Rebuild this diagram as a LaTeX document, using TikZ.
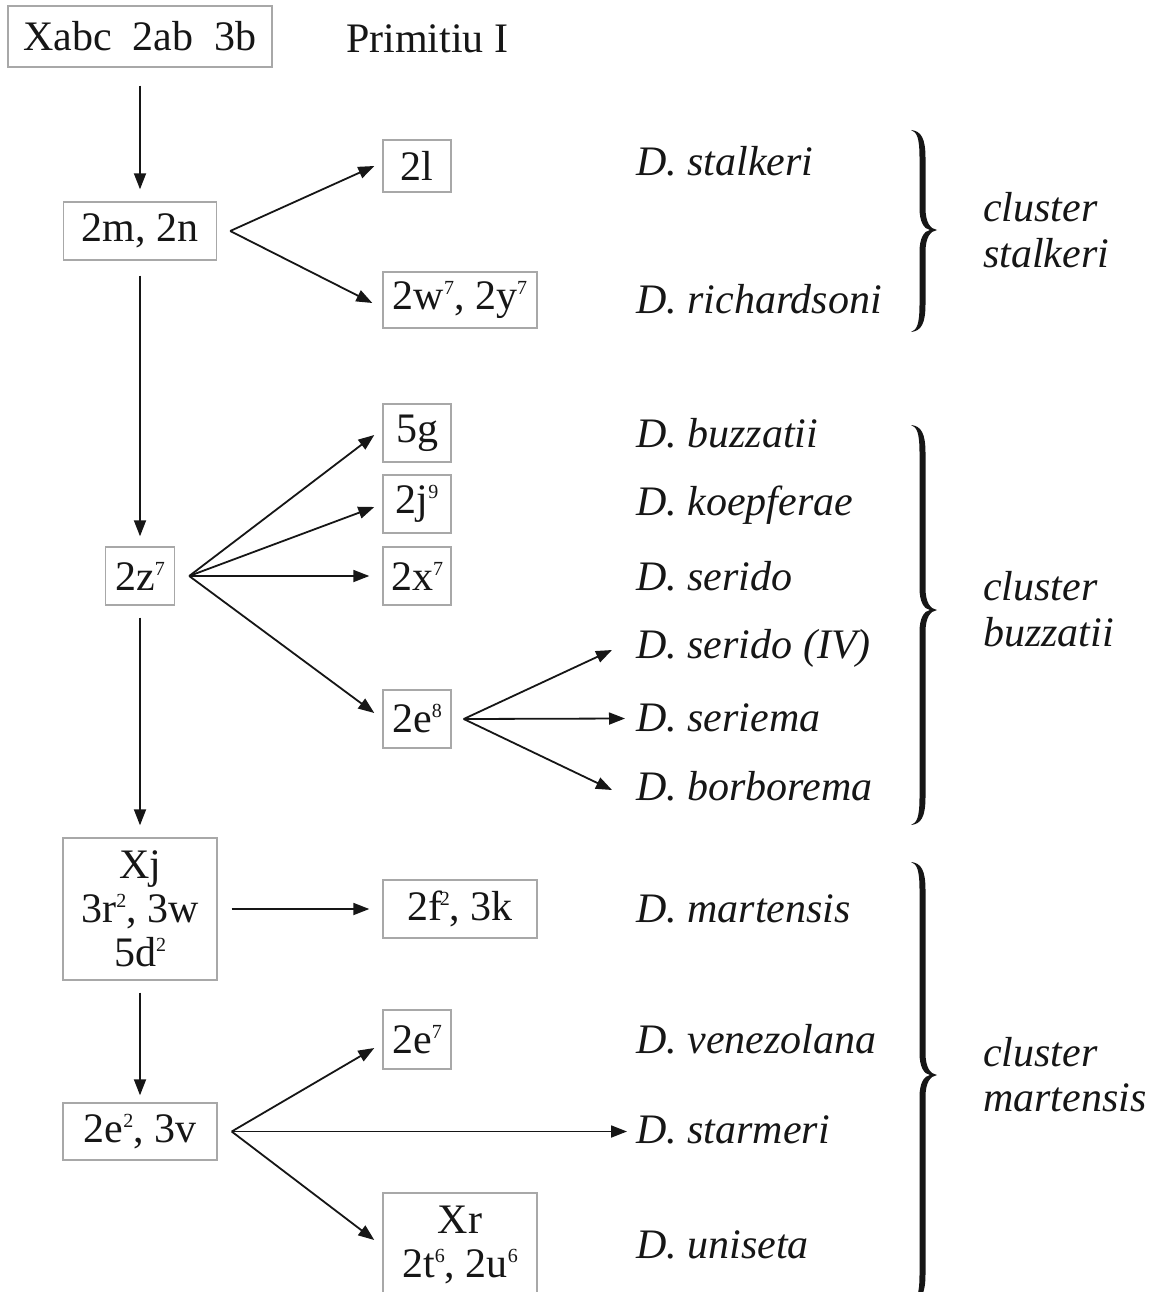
\documentclass[tikz,border=0pt]{standalone}
\usepackage{fontspec}
\setmainfont{Liberation Serif}
\usetikzlibrary{arrows.meta,calc}
\definecolor{boxgray}{HTML}{A8A8A8}
\definecolor{ink}{HTML}{161616}
\newcommand\spx[1]{\raisebox{15pt}{\fontsize{20}{20}\selectfont #1}}
\newcommand\curlybrace[3]{%
 \fill[ink] (911,#1) .. controls (921,{#1+1}) and (925.5,{#1+8}) .. (925.5,{#1+28})
  -- (925.5,{#2-22}) .. controls (925.5,{#2-8}) and (930,{#2-1}) .. (937,#2)
  .. controls (930,{#2+1}) and (925.5,{#2+8}) .. (925.5,{#2+22})
  -- (925.5,{#3-28}) .. controls (925.5,{#3-8}) and (921,{#3-1}) .. (911,#3)
  .. controls (917,{#3-2}) and (919.5,{#3-8}) .. (919.5,{#3-28})
  -- (919.5,{#2+22}) .. controls (919.5,{#2+8}) and (924,{#2+1}) .. (930,#2)
  .. controls (924,{#2-1}) and (919.5,{#2-8}) .. (919.5,{#2-22})
  -- (919.5,{#1+28}) .. controls (919.5,{#1+8}) and (917,{#1+2}) .. (911,#1) -- cycle;}
\begin{document}
\begin{tikzpicture}[x=1pt,y=-1pt,
  font=\fontsize{42}{44}\selectfont, text=ink,
  box/.style={draw=boxgray, line width=1.4pt, inner sep=0pt, align=center},
  arr/.style={draw=ink, line width=1.8pt, -{Triangle[length=16pt,width=12pt]}},
  spec/.style={anchor=base west, inner sep=0pt, font=\fontsize{42}{44}\selectfont\itshape},
  clab/.style={anchor=base west, inner sep=0pt, font=\fontsize{42}{44}\selectfont\itshape}]
\fill[white] (0,0) rectangle (1152,1292);
\useasboundingbox (0,0) rectangle (1152,1292);

% left column
\node[box, minimum width=264pt, minimum height=61pt] (top) at (140,36.5) {Xabc\ \ 2ab\ \ 3b};
\node[anchor=base west, inner sep=0pt] (prim) at (346,53) {Primitiu I};
\node[box, minimum width=153pt, minimum height=58pt] (b2m) at (140,231) {2m, 2n};
\node[box, minimum width=69pt, minimum height=58pt] (b2z) at (140,576) {2z\spx{7}};
\node[box, minimum width=154pt, minimum height=142pt] (bXj) at (140,909) {Xj\\3r\spx{2}, 3w\\5d\spx{2}};
\node[box, minimum width=154pt, minimum height=57pt] (b2e2) at (140,1131.5) {2e\spx{2}, 3v};

% middle column
\node[box, minimum width=68pt, minimum height=52pt] (b2l) at (417,166) {2l};
\node[box, minimum width=154pt, minimum height=56pt] (b2w) at (460,300) {2w\spx{7}, 2y\spx{7}};
\node[box, minimum width=68pt, minimum height=58pt] (b5g) at (417,433) {5g};
\node[box, minimum width=68pt, minimum height=58pt] (b2j) at (417,504) {2j\spx{9}};
\node[box, minimum width=68pt, minimum height=58pt] (b2x) at (417,576) {2x\spx{7}};
\node[box, minimum width=68pt, minimum height=58pt] (b2e8) at (417,719) {2e\spx{8}};
\node[box, minimum width=154pt, minimum height=58pt] (b2f) at (460,909) {2f\kern-2pt\spx{2}, 3k};
\node[box, minimum width=68pt, minimum height=59pt] (b2e7) at (417,1039.5) {2e\spx{7}};
\node[box, minimum width=154pt, minimum height=103pt] (bXr) at (460,1244.5) {Xr\\2t\spx{6}, 2u\spx{6}};

% species
\node[spec] (sStal) at (636,176) {D. stalkeri};
\node[spec] (sRich) at (636,313) {D. richardsoni};
\node[spec] (sBuzz) at (636,447) {D. buzzatii};
\node[spec] (sKoep) at (636,515) {D. koepferae};
\node[spec] (sSer) at (636,590) {D. serido};
\node[spec] (sIV) at (636,658) {D. serido (IV)};
\node[spec] (sSma) at (636,731) {D. seriema};
\node[spec] (sBorb) at (636,800) {D. borborema};
\node[spec] (sMart) at (636,922) {D. martensis};
\node[spec] (sVen) at (636,1053) {D. venezolana};
\node[spec] (sStar) at (636,1143) {D. starmeri};
\node[spec] (sUni) at (636,1258) {D. uniseta};

% cluster labels
\node[clab] (c1a) at (983,222) {cluster};
\node[clab] (c1b) at (983,267) {stalkeri};
\node[clab] (c2a) at (983,600) {cluster};
\node[clab] (c2b) at (983,646) {buzzatii};
\node[clab] (c3a) at (983,1066) {cluster};
\node[clab] (c3b) at (983,1111) {martensis};

% braces
\curlybrace{130}{230}{332}
\curlybrace{425}{610}{825}
\curlybrace{862}{1075}{1302}

% vertical arrows
\draw[arr] ([yshift=-18pt]top.south) -- ([yshift=12pt]b2m.north);
\draw[arr] ([yshift=-15pt]b2m.south) -- ([yshift=10pt]b2z.north);
\draw[arr] ([yshift=-12pt]b2z.south) -- ([yshift=12pt]bXj.north);
\draw[arr] ([yshift=-12pt]bXj.south) -- ([yshift=7pt]b2e2.north);

% fans
\coordinate (f1) at ([xshift=13pt]b2m.east);
\draw[arr] (f1) -- ([xshift=-8pt]b2l.west);
\draw[arr] (f1) -- ([xshift=-10pt,yshift=-3pt]b2w.west);

\coordinate (f2) at ([xshift=14pt]b2z.east);
\draw[arr] (f2) -- ([xshift=-8pt,yshift=-2pt]b5g.west);
\draw[arr] (f2) -- ([xshift=-8pt,yshift=-3pt]b2j.west);
\draw[arr] (f2) -- ([xshift=-13pt]b2x.west);
\draw[arr] (f2) -- ([xshift=-8pt,yshift=6pt]b2e8.west);

\coordinate (f3) at ([xshift=14pt]bXj.east);
\draw[arr] (f3) -- ([xshift=-13pt]b2f.west);

\coordinate (f4) at ([xshift=12pt]b2e8.east);
\draw[arr] (f4) -- ([xshift=-24pt,yshift=8pt]sIV.base west);
\draw[arr] (f4) -- ([xshift=-11pt,yshift=12.5pt]sSma.base west);
\draw[arr] (f4) -- ([xshift=-24pt,yshift=10pt]sBorb.base west);

\coordinate (f5) at ([xshift=14pt]b2e2.east);
\draw[arr] (f5) -- ([xshift=-8pt,yshift=-8.5pt]b2e7.west);
\draw[arr] (f5) -- ([xshift=-9pt,yshift=11.5pt]sStar.base west);
\draw[arr] (f5) -- ([xshift=-8pt,yshift=4.5pt]bXr.west);
\end{tikzpicture}
\end{document}
